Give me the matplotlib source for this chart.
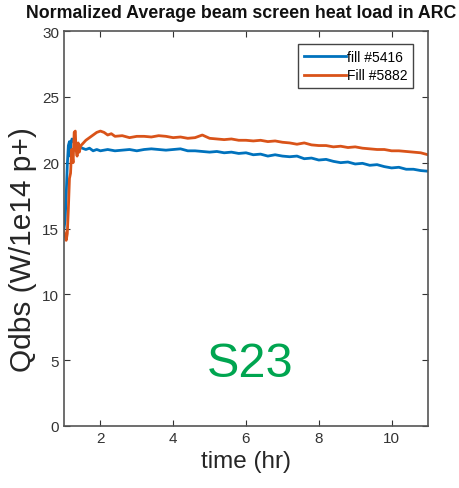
import matplotlib
matplotlib.use("Agg")
import matplotlib.pyplot as plt

plt.rcParams['font.family'] = ['Liberation Sans', 'DejaVu Sans']

t_5416 = [1.00, 1.03, 1.06, 1.09, 1.12, 1.15, 1.17, 1.19, 1.22, 1.3, 1.4, 1.5, 1.6, 1.7, 1.8, 1.9,
          2.0, 2.2, 2.4, 2.6, 2.8, 3.0, 3.2, 3.4, 3.6, 3.8, 4.0, 4.2, 4.4, 4.6, 4.8, 5.0, 5.2, 5.4,
          5.6, 5.8, 6.0, 6.2, 6.4, 6.6, 6.8, 7.0, 7.2, 7.4, 7.6, 7.8, 8.0, 8.2, 8.4, 8.6, 8.8, 9.0,
          9.2, 9.4, 9.6, 9.8, 10.0, 10.2, 10.4, 10.6, 10.8, 11.0]
q_5416 = [15.0, 15.6, 17.5, 19.8, 21.3, 21.6, 20.5, 21.5, 21.8, 21.4, 21.3, 21.1, 21.0, 21.1, 20.9, 21.0,
          20.9, 21.0, 20.9, 20.95, 21.0, 20.9, 21.0, 21.05, 21.0, 20.95, 21.0, 21.05, 20.9, 20.9, 20.85, 20.8,
          20.85, 20.75, 20.8, 20.7, 20.75, 20.6, 20.65, 20.5, 20.6, 20.5, 20.45, 20.5, 20.3, 20.35, 20.2, 20.25,
          20.1, 20.0, 20.05, 19.9, 19.95, 19.8, 19.85, 19.7, 19.6, 19.65, 19.5, 19.5, 19.4, 19.35]

t_5882 = [1.00, 1.03, 1.06, 1.09, 1.12, 1.15, 1.18, 1.21, 1.25, 1.28, 1.31, 1.33, 1.36, 1.39, 1.42, 1.46,
          1.5, 1.6, 1.7, 1.8, 1.9, 2.0, 2.1, 2.2, 2.3, 2.4, 2.6, 2.8, 3.0, 3.2, 3.4, 3.6, 3.8, 4.0, 4.2,
          4.4, 4.6, 4.8, 5.0, 5.2, 5.4, 5.6, 5.8, 6.0, 6.2, 6.4, 6.6, 6.8, 7.0, 7.2, 7.4, 7.6, 7.8, 8.0,
          8.2, 8.4, 8.6, 8.8, 9.0, 9.2, 9.4, 9.6, 9.8, 10.0, 10.2, 10.4, 10.6, 10.8, 11.0]
q_5882 = [14.8, 14.5, 14.1, 14.6, 16.5, 18.8, 19.2, 21.0, 20.0, 22.3, 22.4, 21.0, 20.5, 21.5, 20.8, 21.3,
          21.4, 21.7, 21.9, 22.1, 22.3, 22.4, 22.3, 22.1, 22.2, 22.0, 22.05, 21.9, 22.0, 22.0, 21.95, 22.05,
          22.0, 21.9, 21.95, 21.85, 21.9, 22.1, 21.85, 21.8, 21.75, 21.8, 21.7, 21.7, 21.65, 21.7, 21.6, 21.65,
          21.55, 21.5, 21.4, 21.5, 21.35, 21.3, 21.3, 21.2, 21.25, 21.15, 21.2, 21.1, 21.05, 21.0, 21.0, 20.9,
          20.9, 20.85, 20.8, 20.75, 20.6]

xticks = [2, 4, 6, 8, 10]
yticks = [0, 5, 10, 15, 20, 25, 30]

fig = plt.figure(figsize=(4.59, 4.89), dpi=100)
ax = fig.add_axes([64/459, 62/489, 364/459, 395/489])
ax.plot(t_5416, q_5416, color='#0072BD', lw=2, label='fill #5416')
ax.plot(t_5882, q_5882, color='#D95319', lw=2, label='Fill #5882')
ax.set_xlim(1, 11)
ax.set_ylim(0, 30)
ax.set_xticks(xticks)
ax.set_yticks(yticks)
ax.tick_params(direction='in', top=True, right=True, labelsize=11, colors='#333333', length=4)
for s in ax.spines.values():
    s.set_color('#555555')
    s.set_linewidth(1.2)
ax.set_xlabel('time (hr)', fontsize=17.5, color='#262626', labelpad=4)
ax.set_ylabel('Qdbs (W/1e14 p+)', fontsize=21.5, color='#262626', va='center')
ax.yaxis.set_label_coords(-0.113, 0.45)
fig.text(0.525, 0.973, 'Normalized Average beam screen heat load in ARC', ha='center', va='center',
         fontsize=12.8, fontweight='bold', color='#111111')
ax.text(6.11, 3.8, 'S23', fontsize=35, color='#00A550', ha='center', va='baseline')
leg = ax.legend(loc='upper right', bbox_to_anchor=(0.959, 0.967), borderaxespad=0, fontsize=10,
                handlelength=3, handletextpad=0.1, borderpad=0.4, labelspacing=0.35,
                fancybox=False, framealpha=1)
leg.get_frame().set_edgecolor('#444444')
fig.savefig('out.png', dpi=100)
